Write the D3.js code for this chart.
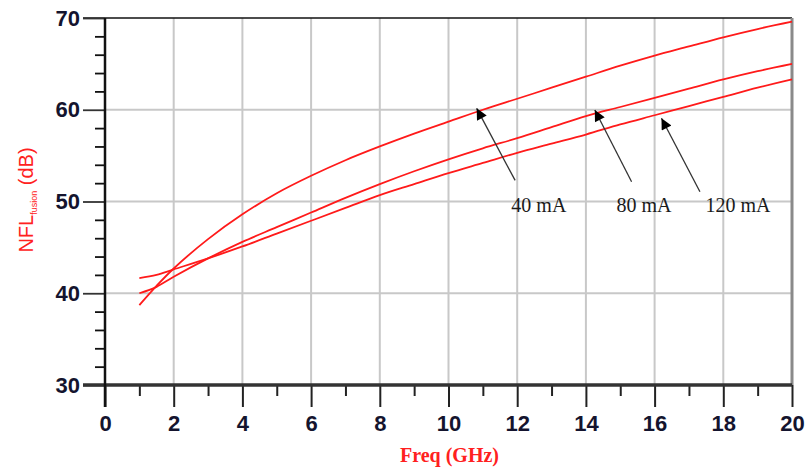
<!DOCTYPE html>
<html>
<head>
<meta charset="utf-8">
<script src="https://cdn.jsdelivr.net/npm/d3@7"></script>
<style>
  body { margin: 0; background: #fff; }
</style>
</head>
<body>
<svg id="chart" width="806" height="472"></svg>
<script>
// Frequency points (GHz) and NFL values (dB)
var freq   = [1, 1.5, 2, 3, 4, 5, 6, 7, 8, 9, 10, 11, 12, 13, 14, 15, 16, 17, 18, 19, 20]
var nfl40  = [38.7, 40.8, 42.7, 45.9, 48.6, 50.9, 52.8, 54.5, 56.0, 57.4, 58.7, 60.0, 61.2, 62.4, 63.6, 64.8, 65.9, 66.9, 67.9, 68.8, 69.6]
var nfl80  = [40.0, 40.7, 41.8, 43.8, 45.6, 47.2, 48.8, 50.4, 51.9, 53.3, 54.6, 55.8, 56.9, 58.1, 59.3, 60.3, 61.3, 62.3, 63.3, 64.2, 65.0]
var nfl120 = [41.65, 42.0, 42.6, 43.8, 45.1, 46.5, 47.9, 49.3, 50.7, 51.9, 53.1, 54.2, 55.3, 56.3, 57.3, 58.4, 59.4, 60.4, 61.4, 62.4, 63.3]

var xTicks = [0, 2, 4, 6, 8, 10, 12, 14, 16, 18, 20]
var xMinor = [1, 3, 5, 7, 9, 11, 13, 15, 17, 19]
var yTicks = [30, 40, 50, 60, 70]
var yMinor = [32, 34, 36, 38, 42, 44, 46, 48, 52, 54, 56, 58, 62, 64, 66, 68]

// annotations: label, arrow tip (on curve), arrow tail, label centre -- in data units
var annoLabels = ['40 mA', '80 mA', '120 mA']
var annoTip    = [[10.82, 60.15], [14.26, 59.97], [16.2, 59.07]]
var annoTail   = [[11.94, 52.3], [15.33, 52.16], [17.32, 51.07]]
var annoText   = [[12.63, 49.6], [15.69, 49.6], [18.43, 49.6]]

var series = [nfl40, nfl80, nfl120]

var svg = d3.select('#chart')
// plot box (don't call these top/left, window.top is read-only)
var pLeft = 105, pRight = 792, pTop = 18, pBottom = 385

var x = d3.scaleLinear().domain([0, 20]).range([pLeft, pRight])
var y = d3.scaleLinear().domain([30, 70]).range([pBottom, pTop])

// grid
svg.append('g').selectAll('line')
  .data(xTicks.slice(1, -1))
  .enter().append('line')
  .attr('x1', d => x(d)).attr('x2', d => x(d))
  .attr('y1', pTop).attr('y2', pBottom)
  .style('stroke', '#c8c8c8').style('stroke-width', 2)

svg.append('g').selectAll('line')
  .data(yTicks.slice(1, -1))
  .enter().append('line')
  .attr('x1', pLeft).attr('x2', pRight)
  .attr('y1', d => y(d)).attr('y2', d => y(d))
  .style('stroke', '#c8c8c8').style('stroke-width', 2)

// frame: top black, right gray
svg.append('line')
  .attr('x1', pLeft - 22).attr('x2', pRight).attr('y1', y(70)).attr('y2', y(70))
  .style('stroke', '#111').style('stroke-width', 1.5)
svg.append('line')
  .attr('x1', pRight).attr('x2', pRight).attr('y1', pTop).attr('y2', pBottom)
  .style('stroke', '#8a8a8a').style('stroke-width', 3)

// y axis (major ticks with labels, minor ticks without)
var yAxis = svg.append('g')
  .attr('transform', 'translate(' + pLeft + ',0)')
  .call(d3.axisLeft(y).tickValues(yTicks).tickSize(22).tickPadding(3).tickFormat(d3.format('d')))
yAxis.select('.domain').remove()
yAxis.selectAll('.tick line').style('stroke', '#333').style('stroke-width', 1.8)
yAxis.selectAll('.tick text')
  .style('font-family', '"Liberation Sans", Arial, sans-serif')
  .style('font-size', '22px').style('font-weight', 'bold')
  .style('fill', '#14142e')

var yAxisMinor = svg.append('g')
  .attr('transform', 'translate(' + pLeft + ',0)')
  .call(d3.axisLeft(y).tickValues(yMinor).tickSize(10).tickFormat(''))
yAxisMinor.select('.domain').remove()
yAxisMinor.selectAll('.tick line').style('stroke', '#111').style('stroke-width', 1.8)

// x axis
var xAxis = svg.append('g')
  .attr('transform', 'translate(0,' + pBottom + ')')
  .call(d3.axisBottom(x).tickValues(xTicks).tickSize(22).tickPadding(8).tickFormat(d3.format('d')))
xAxis.select('.domain').remove()
xAxis.selectAll('.tick line').style('stroke', '#222').style('stroke-width', 2)
xAxis.selectAll('.tick text')
  .style('font-family', '"Liberation Sans", Arial, sans-serif')
  .style('font-size', '22px').style('font-weight', 'bold')
  .style('fill', '#14142e')

var xAxisMinor = svg.append('g')
  .attr('transform', 'translate(0,' + pBottom + ')')
  .call(d3.axisBottom(x).tickValues(xMinor).tickSize(11).tickFormat(''))
xAxisMinor.select('.domain').remove()
xAxisMinor.selectAll('.tick line').style('stroke', '#222').style('stroke-width', 2)

// axis lines
svg.append('line')
  .attr('x1', pLeft - 22).attr('x2', pRight).attr('y1', pBottom).attr('y2', pBottom)
  .style('stroke', '#333').style('stroke-width', 3.5)
svg.append('line')
  .attr('x1', pLeft).attr('x2', pLeft).attr('y1', pTop).attr('y2', pBottom + 22)
  .style('stroke', '#111').style('stroke-width', 2.5)

// curves
var line = d3.line()
  .x((d, i) => x(freq[i]))
  .y(d => y(d))
  .curve(d3.curveCatmullRom)

svg.append('g').selectAll('path')
  .data(series)
  .enter().append('path')
  .attr('d', line)
  .style('fill', 'none')
  .style('stroke', '#ff1a1a')
  .style('stroke-width', 1.8)

// arrow marker
svg.append('defs').append('marker')
  .attr('id', 'arrow')
  .attr('viewBox', '0 0 10 10')
  .attr('refX', 10).attr('refY', 5)
  .attr('markerWidth', 14).attr('markerHeight', 11)
  .attr('markerUnits', 'userSpaceOnUse')
  .attr('orient', 'auto')
  .append('path')
  .attr('d', 'M0,0 L10,5 L0,10 Z')
  .style('fill', '#000')

var anno = svg.append('g')
anno.selectAll('line')
  .data(annoLabels)
  .enter().append('line')
  .attr('x1', (d, i) => x(annoTail[i][0])).attr('y1', (d, i) => y(annoTail[i][1]))
  .attr('x2', (d, i) => x(annoTip[i][0])).attr('y2', (d, i) => y(annoTip[i][1]))
  .attr('marker-end', 'url(#arrow)')
  .style('stroke', '#333').style('stroke-width', 1.3)

anno.selectAll('text')
  .data(annoLabels)
  .enter().append('text')
  .attr('x', (d, i) => x(annoText[i][0]))
  .attr('y', (d, i) => y(annoText[i][1]))
  .attr('text-anchor', 'middle')
  .attr('dominant-baseline', 'central')
  .style('font-family', '"Liberation Serif", "Times New Roman", serif')
  .style('font-size', '20px')
  .style('fill', '#1a1a1a')
  .text(d => d)

// axis titles
svg.append('text')
  .attr('x', (pLeft + pRight) / 2 + 1)
  .attr('y', 462)
  .attr('text-anchor', 'middle')
  .style('font-family', '"Liberation Serif", "Times New Roman", serif')
  .style('font-size', '20px').style('font-weight', 'bold')
  .style('fill', '#ff2020')
  .text('Freq (GHz)')

var ylab = svg.append('text')
  .attr('transform', 'translate(33,200) rotate(-90)')
  .attr('text-anchor', 'middle')
  .style('font-family', '"Liberation Sans", Arial, sans-serif')
  .style('font-size', '20px')
  .style('fill', '#ff2020')
ylab.append('tspan').text('NFL')
ylab.append('tspan').attr('dy', 4).style('font-size', '9px').text('fusion')
ylab.append('tspan').attr('dy', -4).text(' (dB)')
</script>
</body>
</html>
